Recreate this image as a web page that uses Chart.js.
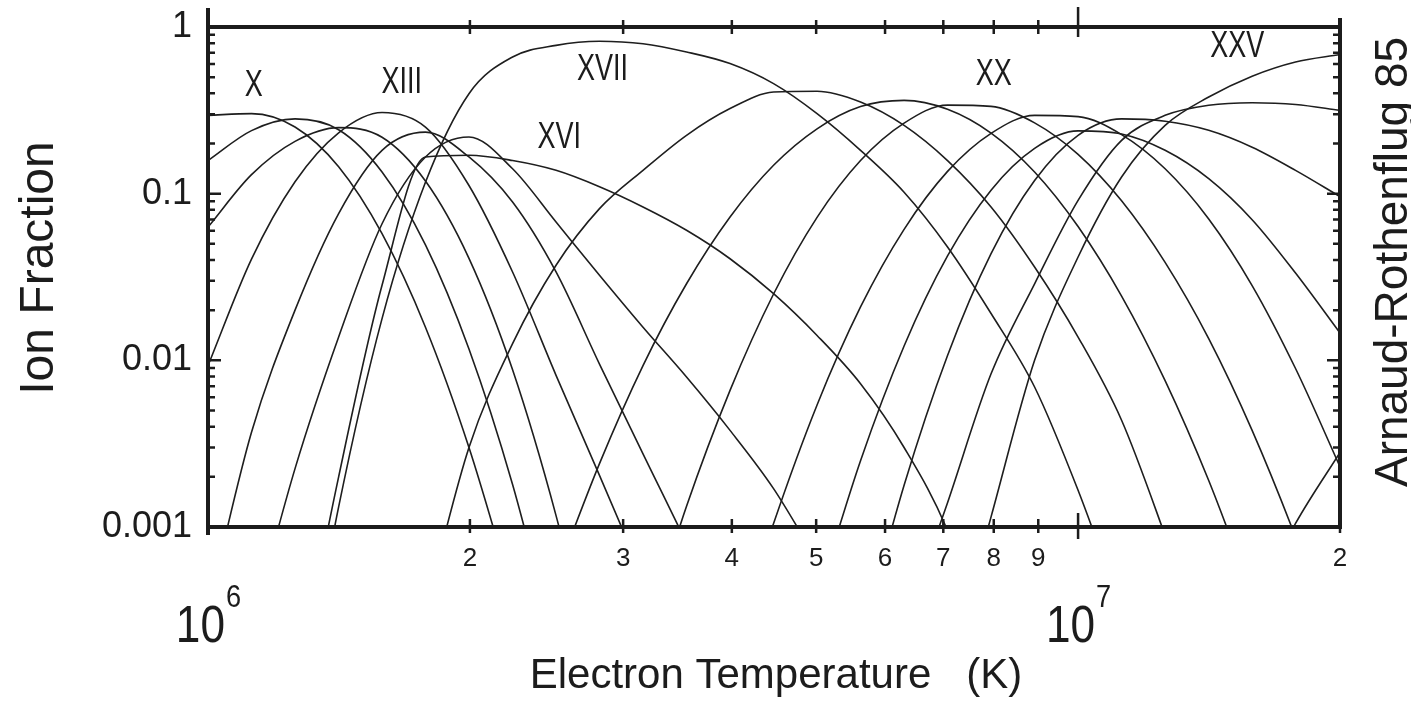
<!DOCTYPE html>
<html>
<head>
<meta charset="utf-8">
<script src="https://cdn.jsdelivr.net/npm/chart.js@4.4.1/dist/chart.umd.min.js"></script>
<style>
  html, body { margin: 0; padding: 0; background: #fff; }
  #wrap { width: 1411px; height: 704px; position: relative; }
</style>
</head>
<body>
<div id="wrap"><canvas id="ionCanvas"></canvas></div>
<script>
// Electron temperature grid in units of 10^6 K (steps of 0.05 dex)
const tempsMK = [1.000, 1.122, 1.259, 1.413, 1.585, 1.778, 1.995, 2.239, 2.512, 2.818, 3.162, 3.548, 3.981, 4.467,
                 5.012, 5.623, 6.310, 7.079, 7.943, 8.913, 10.00, 11.22, 12.59, 14.13, 15.85, 17.78, 20.00];

// Ion fractions, one value per grid temperature (null = off the plot)
const fe10 = [0.295, 0.302, 0.251, 0.145, 0.0575, 0.0158, 0.0030, 0.0004, null, null, null, null, null, null,
              null, null, null, null, null, null, null, null, null, null, null, null, null];
const fe11 = [0.158, 0.239, 0.281, 0.242, 0.135, 0.0493, 0.0117, 0.0018, 0.00018, null, null, null, null, null,
              null, null, null, null, null, null, null, null, null, null, null, null, null];
const fe12 = [0.063, 0.130, 0.206, 0.249, 0.218, 0.119, 0.0409, 0.00877, 0.00117, 0.0001, null, null, null, null,
              null, null, null, null, null, null, null, null, null, null, null, null, null];
const fe13 = [0.0093, 0.0405, 0.118, 0.232, 0.307, 0.251, 0.112, 0.0339, 0.00813, 0.00204, 0.0005, null, null, null,
              null, null, null, null, null, null, null, null, null, null, null, null, null];
const fe14 = [0.00032, 0.0037, 0.020, 0.076, 0.182, 0.234, 0.166, 0.089, 0.0339, 0.0095, 0.00275, 0.0008, 0.00022, null,
              null, null, null, null, null, null, null, null, null, null, null, null, null];
const fe15 = [null, 0.00025, 0.00224, 0.0138, 0.066, 0.166, 0.219, 0.141, 0.0676, 0.0324, 0.0158, 0.00794, 0.0038, 0.0017,
              0.00063, null, null, null, null, null, null, null, null, null, null, null, null];
const fe16 = [null, null, 0.0001, 0.0020, 0.0282, 0.166, 0.170, 0.158, 0.138, 0.110, 0.0832, 0.0603, 0.0407, 0.0251,
              0.0141, 0.00724, 0.0030, 0.00095, 0.00016, null, null, null, null, null, null, null, null];
const fe17 = [null, null, 0.00005, 0.00132, 0.0178, 0.117, 0.398, 0.661, 0.776, 0.822, 0.794, 0.708, 0.603, 0.457,
              0.302, 0.182, 0.102, 0.0479, 0.0191, 0.00692, 0.00166, 0.00032, null, null, null, null, null];
const fe18 = [null, null, null, null, null, 0.00032, 0.0030, 0.0126, 0.0372, 0.0813, 0.138, 0.224, 0.324, 0.407,
              0.412, 0.355, 0.257, 0.158, 0.0832, 0.0363, 0.0138, 0.00437, 0.00089, 0.00016, null, null, null];
const fe19 = [null, null, null, null, null, null, null, null, 0.00051, 0.0024, 0.0093, 0.0288, 0.0724, 0.148,
              0.245, 0.333, 0.363, 0.321, 0.231, 0.135, 0.0635, 0.0243, 0.00755, 0.0019, 0.00039, null, null];
const fe20 = [null, null, null, null, null, null, null, null, null, null, 0.0002, 0.00133, 0.0066, 0.025,
              0.0721, 0.158, 0.265, 0.340, 0.334, 0.266, 0.172, 0.0906, 0.0387, 0.0135, 0.0038, 0.00087, 0.00016];
const fe21 = [null, null, null, null, null, null, null, null, null, null, null, null, 0.00016, 0.00105,
              0.0054, 0.0209, 0.0611, 0.136, 0.230, 0.295, 0.290, 0.226, 0.141, 0.0705, 0.0281, 0.00893, 0.0023];
const fe22 = [null, null, null, null, null, null, null, null, null, null, null, null, null, null,
              0.00037, 0.0025, 0.0122, 0.0423, 0.105, 0.187, 0.238, 0.228, 0.182, 0.123, 0.0698, 0.0334, 0.0146];
const fe23 = [null, null, null, null, null, null, null, null, null, null, null, null, null, null,
              null, 0.0002, 0.00178, 0.0107, 0.0437, 0.120, 0.224, 0.281, 0.272, 0.240, 0.190, 0.138, 0.096];
const fe24 = [null, null, null, null, null, null, null, null, null, null, null, null, null, null,
              null, null, 0.00025, 0.0014, 0.0083, 0.0288, 0.0912, 0.209, 0.295, 0.339, 0.351, 0.343, 0.316];
const fe25 = [null, null, null, null, null, null, null, null, null, null, null, null, null, null,
              null, null, null, 0.00013, 0.00115, 0.0100, 0.0417, 0.126, 0.257, 0.380, 0.507, 0.617, 0.684];
const fe26 = [null, null, null, null, null, null, null, null, null, null, null, null, null, null,
              null, null, null, null, null, null, null, null, null, null, 0.00032, 0.00105, 0.0028];

const ionNames = ["X", "XI", "XII", "XIII", "XIV", "XV", "XVI", "XVII", "XVIII", "XIX", "XX", "XXI", "XXII",
                  "XXIII", "XXIV", "XXV", "XXVI"];
const ionSeries = [fe10, fe11, fe12, fe13, fe14, fe15, fe16, fe17, fe18, fe19, fe20, fe21, fe22, fe23, fe24, fe25, fe26];

// Axis ticks
const yTickValues = [0.001, 0.01, 0.1, 1];
const yTickLabels = ["0.001", "0.01", "0.1", "1"];
const xTickValues = [2, 3, 4, 5, 6, 7, 8, 9, 20];
const xTickLabels = ["2", "3", "4", "5", "6", "7", "8", "9", "2"];
const decadeValues = [1, 10];
const decadeExponents = ["6", "7"];

// Ion names written inside the plot (temperature in MK, fraction)
const curveLabelText = ["X", "XIII", "XVII", "XVI", "XX", "XXV"];
const curveLabelT = [1.129, 1.670, 2.840, 2.534, 8.00, 15.24];
const curveLabelF = [0.443, 0.462, 0.553, 0.216, 0.516, 0.759];

const FONT = '"Liberation Sans", Arial, Helvetica, sans-serif';
const INK = "#1c1c1c";

function squeezedText(ctx, text, x, y, size, squeeze, rotation, align, baseline) {
  ctx.save();
  ctx.translate(x, y);
  if (rotation) ctx.rotate(rotation);
  ctx.scale(squeeze, 1);
  ctx.font = size + "px " + FONT;
  ctx.textAlign = align || "center";
  ctx.textBaseline = baseline || "middle";
  ctx.fillText(text, 0, 0);
  ctx.restore();
}

// Boxed frame with inward ticks, decade labels, titles and ion names
const frameAndText = {
  id: "frameAndText",
  afterDraw(chart) {
    const { ctx, chartArea: a, scales: { x, y } } = chart;
    ctx.save();
    ctx.strokeStyle = INK;
    ctx.fillStyle = INK;

    ctx.lineWidth = 4;
    ctx.beginPath();
    ctx.moveTo(a.left, 8); ctx.lineTo(a.left, a.bottom + 8);
    ctx.moveTo(a.right, 18); ctx.lineTo(a.right, a.bottom + 2);
    ctx.moveTo(a.left, a.top); ctx.lineTo(a.right + 2, a.top);
    ctx.moveTo(a.left, a.bottom); ctx.lineTo(a.right + 2, a.bottom);
    ctx.stroke();

    ctx.lineWidth = 2.5;
    ctx.beginPath();
    for (let e = -3; e <= 0; e++) {
      for (let m = 1; m <= 9; m++) {
        const v = m * Math.pow(10, e);
        if (v > 1) break;
        const py = y.getPixelForValue(v);
        const len = m === 1 ? 13 : 7;
        ctx.moveTo(a.left, py); ctx.lineTo(a.left + len, py);
        ctx.moveTo(a.right, py); ctx.lineTo(a.right - len, py);
      }
    }
    for (let m = 2; m <= 20; m++) {
      if (m > 10 && m !== 20) continue;
      const px = x.getPixelForValue(m);
      const big = m === 10;
      ctx.moveTo(px, a.top - (big ? 20 : 7)); ctx.lineTo(px, a.top + (big ? 10 : 7));
      ctx.moveTo(px, a.bottom - (big ? 14 : 8)); ctx.lineTo(px, a.bottom + (big ? 12 : 6));
    }
    ctx.stroke();

    decadeValues.forEach((v, i) => {
      const cx = x.getPixelForValue(v);
      ctx.font = "52px " + FONT;
      const wBase = ctx.measureText("10").width * 0.85;
      ctx.font = "32px " + FONT;
      const wExp = ctx.measureText(decadeExponents[i]).width * 0.85;
      const left = cx - (wBase + wExp) / 2;
      squeezedText(ctx, "10", left, 642, 52, 0.85, 0, "left", "alphabetic");
      squeezedText(ctx, decadeExponents[i], left + wBase + 1, 607, 32, 0.85, 0, "left", "alphabetic");
    });

    squeezedText(ctx, "Ion Fraction", 40, 268, 48, 1, -Math.PI / 2);
    squeezedText(ctx, "Electron Temperature   (K)", 776, 688, 42, 1, 0, "center", "alphabetic");
    squeezedText(ctx, "Arnaud-Rothenflug 85", 1394, 262, 46, 1, -Math.PI / 2);

    curveLabelText.forEach((t, i) => {
      squeezedText(ctx, t, x.getPixelForValue(curveLabelT[i]), y.getPixelForValue(curveLabelF[i]), 36, 0.75, 0);
    });
    ctx.restore();
  }
};

const datasets = ionSeries.map((vals, i) => ({
  label: "Fe " + ionNames[i],
  data: tempsMK.map((t, j) => ({ x: t, y: vals[j] })),
  borderColor: "#1e1e1e",
  borderWidth: 1.6,
  pointRadius: 0,
  cubicInterpolationMode: "monotone",
  fill: false,
}));

new Chart(document.getElementById("ionCanvas"), {
  type: "line",
  data: { datasets },
  plugins: [frameAndText],
  options: {
    responsive: true,
    maintainAspectRatio: false,
    animation: false,
    events: [],
    layout: { padding: { top: 27, right: 71, left: 0, bottom: 0 } },
    plugins: { legend: { display: false }, tooltip: { enabled: false } },
    scales: {
      x: {
        type: "logarithmic", min: 1, max: 20, position: "bottom",
        afterFit: (s) => { s.height = 177; s.paddingLeft = 0; s.paddingRight = 0; },
        afterBuildTicks: (s) => { s.ticks = xTickValues.map(v => ({ value: v })); },
        ticks: {
          autoSkip: false, maxRotation: 0, minRotation: 0, padding: 16, color: INK,
          font: { family: FONT, size: 26 },
          callback: (v, i) => xTickLabels[i],
        },
        grid: { display: false, drawTicks: false },
        border: { display: false },
      },
      y: {
        type: "logarithmic", min: 0.001, max: 1, position: "left",
        afterFit: (s) => { s.width = 208; s.paddingTop = 0; s.paddingBottom = 0; },
        afterBuildTicks: (s) => { s.ticks = yTickValues.map(v => ({ value: v })); },
        ticks: {
          autoSkip: false, padding: 16, color: INK,
          font: { family: FONT, size: 36 },
          callback: (v, i) => yTickLabels[i],
        },
        grid: { display: false, drawTicks: false },
        border: { display: false },
      },
    },
  },
});
</script>
</body>
</html>
